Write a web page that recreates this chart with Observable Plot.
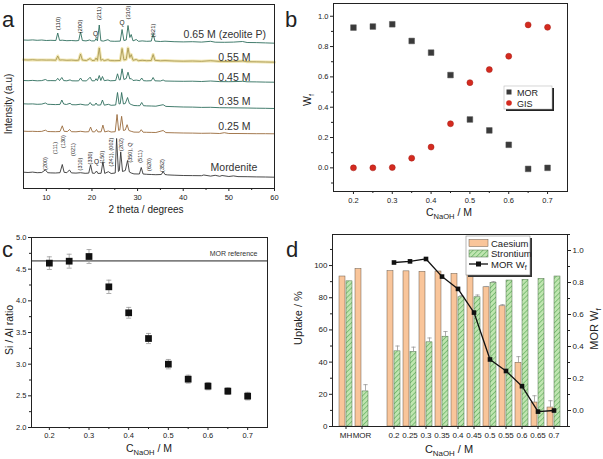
<!DOCTYPE html>
<html><head><meta charset="utf-8">
<script src="https://cdn.jsdelivr.net/npm/d3@7"></script>
<script src="https://cdn.jsdelivr.net/npm/@observablehq/plot@0.6"></script>
<style>
body{margin:0;background:#fff;}
#root{position:relative;width:603px;height:459px;overflow:hidden;background:#fff;}
#root svg{position:absolute;}
</style></head><body><div id="root"></div>
<script>
const FONT = "'Liberation Sans', Arial, Helvetica, sans-serif";

// ---------- Panel a : XRD patterns ----------
const xrdNames = ["0.65 M (zeolite P)","0.55 M","0.45 M","0.35 M","0.25 M","Mordenite"];
const xrdColors = ["#2f6e5d","#a99a55","#2f6e5d","#2f6e5d","#9a6b3c","#353535"];
const xrdOffsets = [145,126,106,80,54,11];
const xrd065 = [[5,3.5],[6,3.3],[7,3.6],[8,3.2],[9,3.5],[10,3.0],[11,3.2],[12.1,3.0],[12.5,10.5],[12.9,3.1],[13.5,3.3],[14.5,2.8],[15.5,3.0],[16.5,2.7],[17.1,3.0],[17.5,11.5],[17.9,3.0],[18.7,2.6],[19.5,3.5],[19.9,2.6],[20.6,2.6],[20.9,5],[21.2,2.7],[21.6,18.5],[21.95,2.8],[22.5,2.4],[23.5,3.8],[24,2.4],[25,2.2],[26.2,2.4],[26.6,14],[27,3],[27.5,3.5],[27.9,18],[28.3,6],[28.6,9],[29,2.6],[29.7,4],[30.2,2.2],[31,2.6],[32,2.2],[33,2.4],[33.4,10],[33.8,2.4],[35,2.0],[36,2.3],[38,1.8],[40,1.6],[42,1.8],[44,1.4],[46,2.2],[47,1.3],[49,1.2],[51,1.4],[53,2.0],[54,1.0],[56,0.9],[58,0.6],[60,0.3]];
const xrd055 = [[5,2.7],[6,2.5],[7,2.8],[8,2.4],[9,2.6],[10,2.4],[11,2.5],[12.1,2.3],[12.5,6.5],[12.9,2.4],[13.5,2.6],[14.5,2.2],[15.5,2.4],[16.5,2.1],[17.1,2.3],[17.5,8.5],[17.9,2.4],[18.8,2.0],[19.6,4],[20,2.0],[20.6,2.1],[20.9,4.5],[21.2,2.1],[21.6,14.5],[21.95,2.2],[22.3,3],[22.7,1.9],[23.5,2.8],[24,1.9],[25,1.8],[26.2,2.0],[26.6,14],[27,2.6],[27.5,3],[27.9,14.5],[28.3,5],[28.6,8],[29,2.2],[29.7,3],[30.2,1.8],[31,2.2],[32,1.8],[33,2.0],[33.4,8],[33.8,2.2],[35,1.7],[36,1.9],[38,1.5],[40,1.3],[42,1.5],[44,1.2],[46,1.8],[48,1.1],[50,1.0],[52,1.2],[53,1.5],[54,0.8],[56,0.7],[58,0.5],[60,0.3]];
const xrd045 = [[5,2.0],[6,1.8],[7,2.1],[8,1.7],[9,1.9],[9.8,3],[10.3,1.8],[11,1.9],[12.1,1.8],[12.5,4.2],[12.9,1.9],[13.4,5],[13.8,1.9],[14.5,1.7],[15.2,2.6],[15.6,1.7],[16.5,1.6],[17.1,1.7],[17.5,4.5],[17.9,1.7],[18.8,1.6],[19.6,5.3],[20,1.7],[20.6,1.7],[20.9,3.8],[21.2,1.8],[21.6,7],[21.95,2],[22.3,6],[22.7,1.8],[23.5,2.5],[24,1.7],[25.2,2],[25.6,8.7],[26,2.5],[26.2,2.6],[26.6,13.7],[27,3],[27.5,4],[27.9,10.3],[28.3,3.5],[28.6,4],[29,2],[29.7,2.4],[30.5,1.8],[30.9,4.5],[31.3,1.8],[32,1.6],[33,1.8],[33.4,5],[33.8,1.7],[35,1.5],[35.6,2.5],[36,1.5],[38,1.3],[40,1.2],[42,1.3],[44,1],[46,1.5],[48,0.9],[50,0.8],[52,1],[53,1.2],[54,0.7],[56,0.6],[58,0.4],[60,0.3]];
const xrd035 = [[5,4.7],[6,4.5],[7,4.6],[8,4.2],[9,4.4],[9.8,5.5],[10.3,4.2],[11,4.1],[12,3.9],[13,4.1],[13.4,8.5],[13.8,4.5],[14.4,4],[15.2,5.2],[15.6,3.8],[16.5,3.7],[17.5,4.3],[18.5,3.5],[19.2,3.6],[19.6,6],[20,3.5],[20.6,3.4],[20.9,5.5],[21.2,3.4],[21.9,3.5],[22.3,8.5],[22.7,3.3],[23.6,4.2],[24.2,3.2],[25.2,3.5],[25.6,16],[25.95,4.5],[26.2,4.8],[26.5,16],[26.9,4.5],[27.3,5],[27.8,11],[28.2,5],[28.6,4],[29.2,3],[30,2.8],[30.5,2.8],[30.9,6],[31.3,2.8],[32,2.6],[33,2.5],[34,2.3],[35.6,3.8],[36.2,2.1],[38,1.8],[40,1.5],[42,1.4],[44,1.1],[46,1.2],[48,0.8],[50,0.7],[52,0.6],[54,0.5],[56,0.3],[58,0.2],[60,0]];
const xrd025 = [[5,3.3],[6,3.1],[7,3.2],[8,3.0],[9,3.1],[9.8,4.3],[10.3,3.0],[11,2.9],[12,2.8],[13,3.0],[13.5,8.7],[13.9,3.2],[14.6,2.9],[15.1,5],[15.5,2.8],[16.5,2.7],[17.5,3.2],[18.5,2.6],[19.3,2.8],[19.7,7.4],[20.1,2.7],[20.6,2.6],[21,5],[21.3,2.6],[22,2.7],[22.4,9.4],[22.8,2.6],[23.6,3.5],[24.2,2.5],[25.1,2.8],[25.5,20],[25.85,4],[26.1,4.5],[26.5,18.2],[26.9,4],[27.3,4.5],[27.7,9.8],[28.1,4],[28.6,3.2],[29.2,2.4],[30.4,2.3],[30.8,4.8],[31.2,2.3],[32,2.2],[33,2.1],[34,2],[35.6,4],[36.2,1.9],[38,1.7],[40,1.5],[42,1.4],[44,1.2],[46,1.3],[48,1.0],[49,1.8],[50,1.0],[52,1],[54,0.9],[56,0.8],[58,0.8],[60,0.7]];
const xrdMor = [[5,5.3],[6,5.0],[7,5.4],[8,4.8],[9,5.0],[9.8,7.6],[10.3,4.8],[11,4.6],[12,4.5],[13,4.8],[13.5,13],[13.9,5.2],[14.5,4.8],[14.7,6],[15.1,7.4],[15.5,4.6],[16.5,4.4],[17.5,4.8],[18.5,4.2],[19.3,4.4],[19.7,12.6],[20.1,4.3],[20.6,4.2],[21,6.5],[21.3,4.1],[22,4.2],[22.4,15.8],[22.8,4.1],[23.6,5.8],[24.2,4],[25.1,4.5],[25.4,39],[25.8,6],[26,7],[26.3,25.6],[26.7,6],[27,6.5],[27.3,7],[27.8,17],[28.2,5.5],[28.6,4.5],[29.2,3.6],[30.4,3.5],[30.8,10],[31.2,3.5],[32,3.2],[33,3],[34,2.8],[35.2,3],[35.6,6],[36,3],[36.6,2.6],[38,2.3],[40,2],[42,1.9],[44,1.8],[44.5,2.5],[46,1.4],[47,2.2],[48,1.2],[48.5,2],[50,1],[51,1.6],[52,0.9],[54,0.8],[56,0.6],[58,0.5],[60,0.3]];
const xrdTraces = [xrd065, xrd055, xrd045, xrd035, xrd025, xrdMor];
const xrdLabelX = [49.1, 51.2, 51.2, 51.2, 51.2, 51.1];
const xrdLabelY = [154, 131, 110.5, 87, 62, 20.5];
const hklTopText = ["(110)","(200)","(211)","(310)","(321)"];
const hklTopX = [12.5, 17.5, 21.6, 27.9, 33.4];
const hklTopY = [165, 162, 175, 176, 158];
const qTopX = [20.8, 26.6];
const qTopY = [154.5, 165.5];
const hklMorText = ["(200)","(111)","(130)","(021)","(310)","(330)","(150)","(241), (002)","(202)","(350), Q","(511)","(620)","(352)"];
const hklMorX = [9.8, 11.9, 13.6, 16.0, 17.5, 19.7, 22.2, 24.2, 26.4, 28.3, 30.5, 32.6, 35.5];
const hklMorY = [25, 40.5, 47, 39, 24.5, 30.5, 31.3, 36.5, 44, 36, 32, 24, 23];
const qMorX = [21.0];
const qMorY = [27];
const aMajorTicks = [10,20,30,40,50,60];
const aMinorTicks = [15,25,35,45,55];

// ---------- Panel b : weight fractions ----------
const conc = [0.2,0.25,0.3,0.35,0.4,0.45,0.5,0.55,0.6,0.65,0.7];
const morWf = [0.925,0.932,0.947,0.837,0.760,0.612,0.319,0.247,0.152,-0.007,0.0];
const gisWf = [0.0,0.0,0.002,0.064,0.137,0.291,0.562,0.648,0.736,0.943,0.927];
const bxMajor = [0.2,0.3,0.4,0.5,0.6,0.7];
const bxMinor = [0.25,0.35,0.45,0.55,0.65];
const byMajor = [0,0.2,0.4,0.6,0.8,1.0];
const byMinor = [-0.1,0.1,0.3,0.5,0.7,0.9];

// ---------- Panel c : Si/Al ratio ----------
const siAl = [4.595,4.626,4.70,4.221,3.811,3.405,3.0,2.763,2.653,2.574,2.495];
const siAlErr = [0.10,0.11,0.11,0.105,0.085,0.08,0.074,0.063,0.058,0.053,0.06];
const morRef = 4.63;
const cyMajor = [2.0,2.5,3.0,3.5,4.0,4.5,5.0];
const cyMinor = [2.25,2.75,3.25,3.75,4.25,4.75];

// ---------- Panel d : uptake ----------
const dCats = ["MH","MOR","0.2","0.25","0.3","0.35","0.4","0.45","0.5","0.55","0.6","0.65","0.7"];
const dDomain = ["MH","MOR"," ","0.2","0.25","0.3","0.35","0.4","0.45","0.5","0.55","0.6","0.65","0.7"];
const csUptake = [93.2,97.9,96.5,96.4,96.1,96.3,94.8,95.0,86.5,74.7,39.6,14.9,11.8];
const csErr = [0,0,0,0,0,0,0,0,0.5,1.0,3.8,4.2,4.2];
const srUptake = [90.2,21.8,46.7,46.3,52.3,55.8,80.3,80.3,89.2,90.7,91.1,91.7,93.2];
const srErr = [0,4.2,3.3,3.0,2.7,3.2,1.0,1.4,0.8,0,0,0,0];
const dLineCats = ["0.2","0.25","0.3","0.35","0.4","0.45","0.5","0.55","0.6","0.65","0.7"];
const dyMajor = [0,20,40,60,80,100];
const dyMinor = [10,30,50,70,90,110];
const d2Major = [0,0.2,0.4,0.6,0.8,1.0];
const d2Minor = [-0.1,0.1,0.3,0.5,0.7,0.9,1.1];

const root = document.getElementById("root");
const noLabel = () => "";
function place(el, left, top) { el.style.left = left + "px"; el.style.top = top + "px"; root.appendChild(el); return el; }
const capSym = {draw(ctx, size) { const w = Math.sqrt(size) / 2; ctx.moveTo(-w, 0); ctx.lineTo(w, 0); }};

// ----- Plot a -----
const aRows = xrdTraces.flatMap((tr, i) => tr.map(([x, v]) => ({name: xrdNames[i], x, y: xrdOffsets[i] + v})));
const plotA = Plot.plot({
  width: 300, height: 230, marginLeft: 23, marginRight: 26, marginTop: 4, marginBottom: 42,
  x: {domain: [5, 60]}, y: {domain: [0, 184], axis: null},
  color: {domain: xrdNames, range: xrdColors},
  style: {fontFamily: FONT, fontSize: "7.5px", color: "#222", background: "#fff"},
  marks: [
    Plot.line(aRows.filter(d => d.name === "0.55 M"), {x: "x", y: "y", stroke: "#f1e6b2", strokeWidth: 3}),
    Plot.line(aRows, {x: "x", y: "y", z: "name", stroke: "name", strokeWidth: 0.9}),
    Plot.text(xrdNames, {x: (d, i) => xrdLabelX[i], y: (d, i) => xrdLabelY[i], text: d => d, fontSize: 10.5, fill: "#333"}),
    Plot.text(hklTopText, {x: (d, i) => hklTopX[i], y: (d, i) => hklTopY[i], text: d => d, rotate: -90, fontSize: 6, fill: "#222"}),
    Plot.text(qTopX, {x: d => d, y: (d, i) => qTopY[i], text: () => "Q", fontSize: 6.5, fill: "#222"}),
    Plot.text(hklMorText, {x: (d, i) => hklMorX[i], y: (d, i) => hklMorY[i], text: d => d, rotate: -90, fontSize: 5.5, fill: "#222"}),
    Plot.text(qMorX, {x: d => d, y: (d, i) => qMorY[i], text: () => "Q", fontSize: 6.5, fill: "#222"}),
    Plot.axisX({ticks: aMajorTicks, tickSize: 3, tickPadding: 3, label: null}),
    Plot.axisX({ticks: aMinorTicks, tickSize: 2, tickFormat: noLabel, label: null}),
    Plot.frame({stroke: "#222"})
  ]
});
place(plotA, 0, 0);

// ----- Plot b -----
const bRows = conc.map((c, i) => ({c, mor: morWf[i], gis: gisWf[i]}));
const plotB = Plot.plot({
  width: 303, height: 230, marginLeft: 33, marginRight: 36, marginTop: 3, marginBottom: 39,
  x: {domain: [0.1486, 0.7514]}, y: {domain: [-0.156, 1.084]},
  style: {fontFamily: FONT, fontSize: "7.5px", color: "#222", background: "#fff"},
  marks: [
    Plot.axisX({ticks: bxMajor, tickFormat: ".1f", tickSize: 3, tickPadding: 3, label: null}),
    Plot.axisX({ticks: bxMinor, tickSize: 2, tickFormat: noLabel, label: null}),
    Plot.axisY({ticks: byMajor, tickFormat: ".1f", tickSize: 3, tickPadding: 2, label: null}),
    Plot.axisY({ticks: byMinor, tickSize: 2, tickFormat: noLabel, label: null}),
    Plot.frame({stroke: "#222"}),
    Plot.dot(bRows, {x: "c", y: "mor", symbol: "square", r: 3.2, fill: "#3a3a3a", stroke: "#555", strokeWidth: 0.5}),
    Plot.dot(bRows, {x: "c", y: "gis", r: 3, fill: "#d42a1f", stroke: "#a51c14", strokeWidth: 0.5})
  ]
});
place(plotB, 300, 0);

// ----- Plot c -----
const cRows = conc.map((c, i) => ({c, v: siAl[i], e: siAlErr[i]}));
const plotC = Plot.plot({
  width: 300, height: 229, marginLeft: 31, marginRight: 33, marginTop: 7, marginBottom: 32,
  x: {domain: [0.155, 0.75]}, y: {domain: [2, 5]},
  style: {fontFamily: FONT, fontSize: "7.5px", color: "#222", background: "#fff"},
  marks: [
    Plot.axisX({ticks: bxMajor, tickFormat: ".1f", tickSize: 3, tickPadding: 2, label: null}),
    Plot.axisX({ticks: bxMinor, tickSize: 2, tickFormat: noLabel, label: null}),
    Plot.axisY({ticks: cyMajor, tickFormat: ".1f", tickSize: 3, tickPadding: 2, label: null}),
    Plot.axisY({ticks: cyMinor, tickSize: 2, tickFormat: noLabel, label: null}),
    Plot.ruleY([morRef], {stroke: "#222", strokeWidth: 1}),
    Plot.text([morRef], {y: d => d, frameAnchor: "right", textAnchor: "end", dx: -10, dy: -7, text: () => "MOR reference", fontSize: 7, fill: "#333"}),
    Plot.ruleX(cRows, {x: "c", y1: d => d.v - d.e, y2: d => d.v + d.e, stroke: "#999", strokeWidth: 0.8}),
    Plot.dot(cRows, {x: "c", y: d => d.v + d.e, symbol: capSym, r: 2.8, stroke: "#999", strokeWidth: 0.8, fill: "none"}),
    Plot.dot(cRows, {x: "c", y: d => d.v - d.e, symbol: capSym, r: 2.8, stroke: "#999", strokeWidth: 0.8, fill: "none"}),
    Plot.dot(cRows, {x: "c", y: "v", symbol: "square", r: 3.8, fill: "#111"}),
    Plot.frame({stroke: "#222"})
  ]
});
place(plotC, 0, 230);

// ----- Plot d -----
const dW = 303, dH = 229, dML = 32, dMR = 36, dMT = 4, dMB = 33;
const pIn = 0.167, pOut = 0.06;
const step = (dW - dML - dMR) / (dDomain.length - pIn + 2 * pOut);
const bw = step * (1 - pIn);
const dRows = dCats.map((cat, i) => ({cat, cs: csUptake[i], csE: csErr[i], sr: srUptake[i], srE: srErr[i]}));
const xBand = {type: "band", domain: dDomain, paddingInner: pIn, paddingOuter: pOut};
const plotD = Plot.plot({
  width: dW, height: dH, marginLeft: dML, marginRight: dMR, marginTop: dMT, marginBottom: dMB,
  x: xBand, y: {domain: [0, 119.3]},
  style: {fontFamily: FONT, fontSize: "8px", color: "#222", background: "#fff"},
  marks: [
    Plot.barY(dRows, {x: "cat", y: "cs", fill: "#f9c59a", stroke: "#6a5a4a", strokeWidth: 0.5, insetRight: bw / 2}),
    Plot.barY(dRows, {x: "cat", y: "sr", fill: "url(#hatchD)", stroke: "#4d6e48", strokeWidth: 0.5, insetLeft: bw / 2}),
    Plot.ruleX(dRows.filter(d => d.csE > 0), {x: "cat", y1: "cs", y2: d => d.cs + d.csE, dx: -bw / 4, stroke: "#999", strokeWidth: 0.8}),
    Plot.dot(dRows.filter(d => d.csE > 0), {x: "cat", y: d => d.cs + d.csE, dx: -bw / 4, symbol: capSym, r: 2.4, stroke: "#999", strokeWidth: 0.8, fill: "none"}),
    Plot.ruleX(dRows.filter(d => d.srE > 0), {x: "cat", y1: "sr", y2: d => d.sr + d.srE, dx: bw / 4, stroke: "#999", strokeWidth: 0.8}),
    Plot.dot(dRows.filter(d => d.srE > 0), {x: "cat", y: d => d.sr + d.srE, dx: bw / 4, symbol: capSym, r: 2.4, stroke: "#999", strokeWidth: 0.8, fill: "none"}),
    Plot.axisX({ticks: dCats, tickSize: 3, tickPadding: 3, label: null}),
    Plot.axisY({ticks: dyMajor, tickSize: 3, tickPadding: 2, label: null}),
    Plot.axisY({ticks: dyMinor, tickSize: 2, tickFormat: noLabel, label: null}),
    Plot.frame({stroke: "#222"})
  ]
});
d3.select(plotD).insert("defs", ":first-child").html(
  '<pattern id="hatchD" patternUnits="userSpaceOnUse" width="3.5" height="3.5" patternTransform="rotate(45)">' +
  '<rect width="3.5" height="3.5" fill="#bfe5b0"/><line x1="0" y1="0" x2="0" y2="3.5" stroke="#5fae5c" stroke-width="1.3"/></pattern>');
place(plotD, 300, 230);

const lineRows = dLineCats.map((cat, i) => ({cat, w: morWf[i]}));
const plotD2 = Plot.plot({
  width: dW, height: dH, marginLeft: dML, marginRight: dMR, marginTop: dMT, marginBottom: dMB,
  x: {...xBand, axis: null}, y: {domain: [-0.1, 1.1]},
  style: {fontFamily: FONT, fontSize: "8px", color: "#222", background: "transparent"},
  marks: [
    Plot.axisY({anchor: "right", ticks: d2Major, tickFormat: ".1f", tickSize: 3, tickPadding: 2, label: null}),
    Plot.axisY({anchor: "right", ticks: d2Minor, tickSize: 2, tickFormat: noLabel, label: null}),
    Plot.line(lineRows, {x: "cat", y: "w", stroke: "#111", strokeWidth: 1.3}),
    Plot.dot(lineRows, {x: "cat", y: "w", symbol: "square", r: 2.6, fill: "#111"})
  ]
});
place(plotD2, 300, 230);

// ----- Overlay: panel letters, axis titles, legends -----
const ov = d3.create("svg").attr("width", 603).attr("height", 459)
  .style("left", "0px").style("top", "0px").style("font-family", FONT).style("pointer-events", "none");
ov.append("defs").html(
  '<pattern id="hatchL" patternUnits="userSpaceOnUse" width="3.5" height="3.5" patternTransform="rotate(45)">' +
  '<rect width="3.5" height="3.5" fill="#bfe5b0"/><line x1="0" y1="0" x2="0" y2="3.5" stroke="#5fae5c" stroke-width="1.3"/></pattern>');

function addText(x, y, segs, size = 10.5, rotate = 0, anchor = "middle") {
  const t = ov.append("text").attr("transform", `translate(${x},${y}) rotate(${rotate})`)
    .attr("text-anchor", anchor).attr("font-size", size).attr("fill", "#222");
  for (const [s, shift] of segs) {
    const sp = t.append("tspan").text(s);
    if (shift === 1) sp.attr("font-size", size * 0.72).attr("dy", size * 0.3);
    else if (shift === -1) sp.attr("dy", -size * 0.3);
  }
  return t;
}
// panel letters
addText(2, 27, [["a", 0]], 22, 0, "start");
addText(285, 27, [["b", 0]], 22, 0, "start");
addText(2, 257, [["c", 0]], 22, 0, "start");
addText(286, 257, [["d", 0]], 22, 0, "start");
// axis titles
addText(12, 104, [["Intensity (a.u)", 0]], 10, -90);
addText(146, 213, [["2 theta / degrees", 0]], 10);
addText(311, 100, [["W", 0], ["f", 1]], 10.5, -90);
addText(449, 216, [["C", 0], ["NaOH", 1], [" / M", -1]], 10.5);
addText(13, 330, [["Si / Al ratio", 0]], 10.5, -90);
addText(149, 451.5, [["C", 0], ["NaOH", 1], [" / M", -1]], 10.5);
addText(302, 318, [["Uptake / %", 0]], 11, -90);
addText(598, 329, [["MOR W", 0], ["f", 1]], 11, -90);
addText(449, 453, [["C", 0], ["NaOH", 1], [" / M", -1]], 11);

// legend b
ov.append("rect").attr("x", 506).attr("y", 88).attr("width", 48).attr("height", 23).attr("fill", "#222");
ov.append("rect").attr("x", 504).attr("y", 86).attr("width", 48).attr("height", 23).attr("fill", "#fff").attr("stroke", "#bbb").attr("stroke-width", 0.6);
ov.append("rect").attr("x", 506.5).attr("y", 89.5).attr("width", 5).attr("height", 5).attr("fill", "#3a3a3a");
ov.append("circle").attr("cx", 509).attr("cy", 103).attr("r", 2.8).attr("fill", "#d42a1f");
addText(517, 95.5, [["MOR", 0]], 9, 0, "start");
addText(517, 107, [["GIS", 0]], 9, 0, "start");

// legend d
ov.append("rect").attr("x", 468).attr("y", 238).attr("width", 64).attr("height", 39).attr("fill", "#333");
ov.append("rect").attr("x", 466).attr("y", 236).attr("width", 64).attr("height", 39).attr("fill", "#fff").attr("stroke", "#888").attr("stroke-width", 0.6);
ov.append("rect").attr("x", 469).attr("y", 239.5).attr("width", 19).attr("height", 7).attr("fill", "#f9c59a").attr("stroke", "#6a5a4a").attr("stroke-width", 0.5);
ov.append("rect").attr("x", 469).attr("y", 250).attr("width", 19).attr("height", 7).attr("fill", "url(#hatchL)").attr("stroke", "#4d6e48").attr("stroke-width", 0.5);
ov.append("line").attr("x1", 469).attr("x2", 488).attr("y1", 264).attr("y2", 264).attr("stroke", "#111").attr("stroke-width", 1.3);
ov.append("rect").attr("x", 476).attr("y", 261.5).attr("width", 5).attr("height", 5).attr("fill", "#111");
addText(491, 246.5, [["Caesium", 0]], 9.5, 0, "start");
addText(491, 257, [["Strontium", 0]], 9.5, 0, "start");
addText(491, 267.5, [["MOR W", 0], ["f", 1]], 9.5, 0, "start");

root.appendChild(ov.node());
</script></body></html>
